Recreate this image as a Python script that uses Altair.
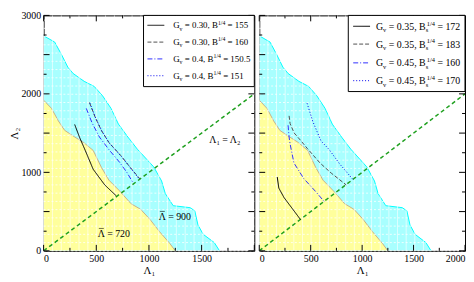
import altair as alt
import pandas as pd

FONT = "Liberation Serif"

# ---------------- data ----------------
X_TICKS_L = [0, 500, 1000, 1500]
X_TICKS_R = [0, 500, 1000, 1500, 2000]
Y_TICKS = [0, 500, 1000, 1500, 2000, 2500, 3000]
MINOR_X = [250, 750, 1250, 1750]
MINOR_Y = [250, 750, 1250, 1750, 2250, 2750]

# contour Lambda-bar = 900 (cyan region)
c900_l1 = [0, 105, 170, 230, 280, 385, 480, 560, 640, 710, 800, 890, 1045, 1120, 1155, 1230, 1390, 1435, 1465, 1515, 1620, 1670]
c900_l2 = [2740, 2660, 2500, 2340, 2260, 2160, 2095, 1975, 1815, 1615, 1450, 1295, 1070, 890, 730, 575, 550, 510, 330, 210, 105, 0]
# contour Lambda-bar = 720 (yellow region)
c720_l1 = [0, 75, 140, 200, 290, 380, 470, 550, 620, 720, 830, 920, 1010, 1100, 1200, 1250]
c720_l2 = [1920, 1815, 1655, 1535, 1455, 1380, 1280, 1060, 900, 765, 600, 530, 400, 245, 90, 0]

# left panel curves
L_solid_x = [295, 340, 395, 470, 580, 690]
L_solid_y = [1610, 1450, 1280, 1040, 840, 700]
L_dash_x = [435, 490, 550, 620, 735, 830, 915]
L_dash_y = [1890, 1700, 1530, 1380, 1210, 1050, 915]
L_dashdot_x = [405, 460, 530, 620, 720, 790, 850]
L_dashdot_y = [1815, 1630, 1450, 1290, 1130, 1000, 865]
L_dot_x = [440, 495, 555, 625, 740, 835, 910]
L_dot_y = [1880, 1690, 1520, 1370, 1200, 1040, 910]

# right panel curves
R_solid_x = [175, 190, 240, 320, 400]
R_solid_y = [940, 800, 680, 540, 400]
R_dash_x = [290, 300, 340, 400, 470, 590, 700, 845]
R_dash_y = [1720, 1620, 1500, 1410, 1300, 1120, 990, 840]
R_dashdot_x = [280, 290, 300, 337, 433, 545, 630]
R_dashdot_y = [1600, 1450, 1360, 1120, 920, 760, 630]
R_dot_x = [465, 520, 600, 680, 780, 910]
R_dot_y = [1880, 1650, 1400, 1290, 1110, 910]

DIAG = [0, 2000]

L_G = ["0.30", "0.30", "0.4", "0.4"]
L_B = ["155", "160", "150.5", "151"]
R_G = ["0.35", "0.35", "0.45", "0.45"]
R_B = ["172", "183", "160", "170"]

# ---------------- styles ----------------
STYLES = [
    dict(color="black", dash=[1, 0]),
    dict(color="#505050", dash=[4, 2]),
    dict(color="#3030ff", dash=[5, 2, 1, 2]),
    dict(color="#0000ee", dash=[1, 2]),
]
CYAN_FILL = "#a8ffff"
CYAN_LINE = "#00ffff"
YEL_FILL = "#ffff9c"
YEL_LINE = "#c8b08a"
GREEN = "#1fa01f"

W_L, W_R, H = 213, 208, 238
XD = [0, 2000]
YD = [0, 3000]

CW = {'.': 250, ',': 250, ' ': 250, '=': 564, 'B': 667, 'G': 722, 'v': 500,
      's': 389, '/': 278}


def tw(s, size):
    return sum(CW.get(ch, 500) for ch in s) / 1000.0 * size


xs = alt.Scale(domain=XD, nice=False, zero=False)
ys = alt.Scale(domain=YD, nice=False, zero=False)


def df_xy(a, b):
    return pd.DataFrame({"l1": a, "l2": b})


def one(values):
    return alt.Chart(alt.Data(values=[values]))


def txt_px(s, x, y, size, align="left"):
    return one({"t": s}).mark_text(
        align=align, baseline="alphabetic", font=FONT, fontSize=size, color="black"
    ).encode(x=alt.value(x), y=alt.value(y), text="t:N")


def panel(W, xticks, curves, G, B, sub_s, leg, show_y, label_annots, bar_annots):
    layers = []
    # regions
    layers.append(alt.Chart(df_xy(c900_l1, c900_l2)).mark_area(
        color=CYAN_FILL, opacity=1, line={"color": CYAN_LINE, "strokeWidth": 1}, clip=True
    ).encode(x=alt.X("l1:Q", scale=xs), y=alt.Y("l2:Q", scale=ys)))
    layers.append(alt.Chart(df_xy(c720_l1, c720_l2)).mark_area(
        color=YEL_FILL, opacity=1, line={"color": YEL_LINE, "strokeWidth": 1}, clip=True
    ).encode(x=alt.X("l1:Q", scale=xs), y=alt.Y("l2:Q", scale=ys)))
    # fill pattern (white grid over the fills)
    vx = pd.DataFrame({"v": list(range(0, 2001, 84))})
    hy = pd.DataFrame({"v": list(range(0, 3001, 105))})
    layers.append(alt.Chart(vx).mark_rule(color="white", opacity=0.6, strokeWidth=1).encode(
        x=alt.X("v:Q", scale=xs), y=alt.value(0), y2=alt.value(H)))
    layers.append(alt.Chart(hy).mark_rule(color="white", opacity=0.8, strokeWidth=1,
                                          strokeDash=[2, 2]).encode(
        y=alt.Y("v:Q", scale=ys), x=alt.value(0), x2=alt.value(W)))
    # diagonal
    layers.append(alt.Chart(df_xy(DIAG, DIAG)).mark_line(
        color=GREEN, strokeDash=[4, 3], strokeWidth=1.5, clip=True
    ).encode(x=alt.X("l1:Q", scale=xs), y=alt.Y("l2:Q", scale=ys)))
    # curves
    for (cx, cy), st in zip(curves, STYLES):
        layers.append(alt.Chart(df_xy(cx, cy)).mark_line(
            color=st["color"], strokeDash=st["dash"], strokeWidth=1, clip=True
        ).encode(x=alt.X("l1:Q", scale=xs), y=alt.Y("l2:Q", scale=ys), order="l1:Q"))
    # annotations
    for (s, ax, ay) in label_annots:
        layers.append(one({"t": s, "a": ax, "b": ay}).mark_text(
            font=FONT, fontSize=10, color="black", align="center", baseline="middle"
        ).encode(x=alt.X("a:Q", scale=xs), y=alt.Y("b:Q", scale=ys), text="t:N"))
    for (s, ax, ay) in bar_annots:
        layers.append(one({"t": s, "a": ax, "b": ay}).mark_text(
            font=FONT, fontSize=10, color="black", align="left", baseline="middle"
        ).encode(x=alt.X("a:Q", scale=xs), y=alt.Y("b:Q", scale=ys), text="t:N"))
        # macron over the Lambda
        layers.append(one({"a": ax, "b": ay}).mark_tick(
            color="black", orient="horizontal", size=5, thickness=0.8,
            xOffset=3.6, yOffset=-5.5
        ).encode(x=alt.X("a:Q", scale=xs), y=alt.Y("b:Q", scale=ys)))
    # inward ticks
    tick_major_x = pd.DataFrame({"v": X_TICKS_R})
    tick_minor_x = pd.DataFrame({"v": MINOR_X})
    tick_major_y = pd.DataFrame({"v": Y_TICKS})
    tick_minor_y = pd.DataFrame({"v": MINOR_Y})
    for d, ln in ((tick_major_x, 6), (tick_minor_x, 3)):
        layers.append(alt.Chart(d).mark_rule(color="black").encode(
            x=alt.X("v:Q", scale=xs), y=alt.value(H), y2=alt.value(H - ln)))
        layers.append(alt.Chart(d).mark_rule(color="black").encode(
            x=alt.X("v:Q", scale=xs), y=alt.value(0), y2=alt.value(ln)))
    for d, ln in ((tick_major_y, 6), (tick_minor_y, 3)):
        layers.append(alt.Chart(d).mark_rule(color="black").encode(
            y=alt.Y("v:Q", scale=ys), x=alt.value(0), x2=alt.value(ln)))
        layers.append(alt.Chart(d).mark_rule(color="black").encode(
            y=alt.Y("v:Q", scale=ys), x=alt.value(W), x2=alt.value(W - ln)))
    # legend box
    bx0, bx1, by0, by1, rows_y, sx0, sx1, tx0, f = leg
    layers.append(one({}).mark_rect(fill="white", stroke="black", strokeWidth=1).encode(
        x=alt.value(bx0), x2=alt.value(bx1), y=alt.value(by0), y2=alt.value(by1)))
    fs = f * 0.65
    for i, (g, b) in enumerate(zip(G, B)):
        st = STYLES[i]
        ry = rows_y[i]
        layers.append(one({}).mark_rule(color=st["color"], strokeDash=st["dash"], strokeWidth=1).encode(
            x=alt.value(sx0), x2=alt.value(sx1), y=alt.value(ry), y2=alt.value(ry)))
        base = ry + f * 0.35
        x = tx0
        layers.append(txt_px("G", x, base, f)); x += tw("G", f)
        layers.append(txt_px("v", x, base + f * 0.25, fs)); x += tw("v", fs) + tw(" ", f)
        s3 = "= " + g + ", B"
        layers.append(txt_px(s3, x, base, f)); x += tw(s3, f)
        if sub_s:
            layers.append(txt_px("s", x, base + f * 0.25, fs))
            layers.append(txt_px("1/4", x + 1, base - f * 0.42, fs))
            x += max(tw("1/4", fs) + 1, tw("s", fs)) + tw(" ", f)
        else:
            layers.append(txt_px("1/4", x, base - f * 0.42, fs))
            x += tw("1/4", fs) + tw(" ", f)
        layers.append(txt_px("= " + b, x, base, f))

    yaxis = alt.Axis(values=Y_TICKS, format="d", title="Λ₂", ticks=False, domain=False, grid=False,
                     labelFont=FONT, labelFontSize=10, labelColor="black", labelPadding=3,
                     titleFont=FONT, titleFontSize=11, titleFontWeight="normal",
                     titleColor="black", titlePadding=1) if show_y else None
    xaxis = alt.Axis(values=xticks, format="d", title="Λ₁", ticks=False, domain=False, grid=False,
                     labelFont=FONT, labelFontSize=10, labelColor="black", labelPadding=3,
                     titleFont=FONT, titleFontSize=11, titleFontWeight="normal",
                     titleColor="black", titlePadding=1)
    # axis holder layer
    holder = alt.Chart(df_xy([0], [0])).mark_point(opacity=0).encode(
        x=alt.X("l1:Q", scale=xs, axis=xaxis),
        y=alt.Y("l2:Q", scale=ys, axis=yaxis))
    return alt.layer(holder, *layers).properties(width=W, height=H)


left = panel(
    W_L, X_TICKS_L,
    [(L_solid_x, L_solid_y), (L_dash_x, L_dash_y), (L_dashdot_x, L_dashdot_y), (L_dot_x, L_dot_y)],
    L_G, L_B, False,
    (101, W_L, 0, 72, [10, 27, 44, 61], 105, 122, 131, 9),
    True,
    [("Λ₁ = Λ₂", 1720, 1410)],
    [("Λ = 900", 1093, 434), ("Λ = 720", 514, 217)],
)
right = panel(
    W_R, X_TICKS_R,
    [(R_solid_x, R_solid_y), (R_dash_x, R_dash_y), (R_dashdot_x, R_dashdot_y), (R_dot_x, R_dot_y)],
    R_G, R_B, True,
    (90, W_R, 0, 77, [11, 29, 48, 66], 95, 112, 118, 10),
    False,
    [],
    [],
)

chart = alt.hconcat(left, right, spacing=0).properties(
    padding={"left": 0, "top": 0, "right": 0, "bottom": 0}
).configure_view(stroke="black", strokeWidth=1)

chart.save("out.html", embed_options={"renderer": "svg", "actions": False})
